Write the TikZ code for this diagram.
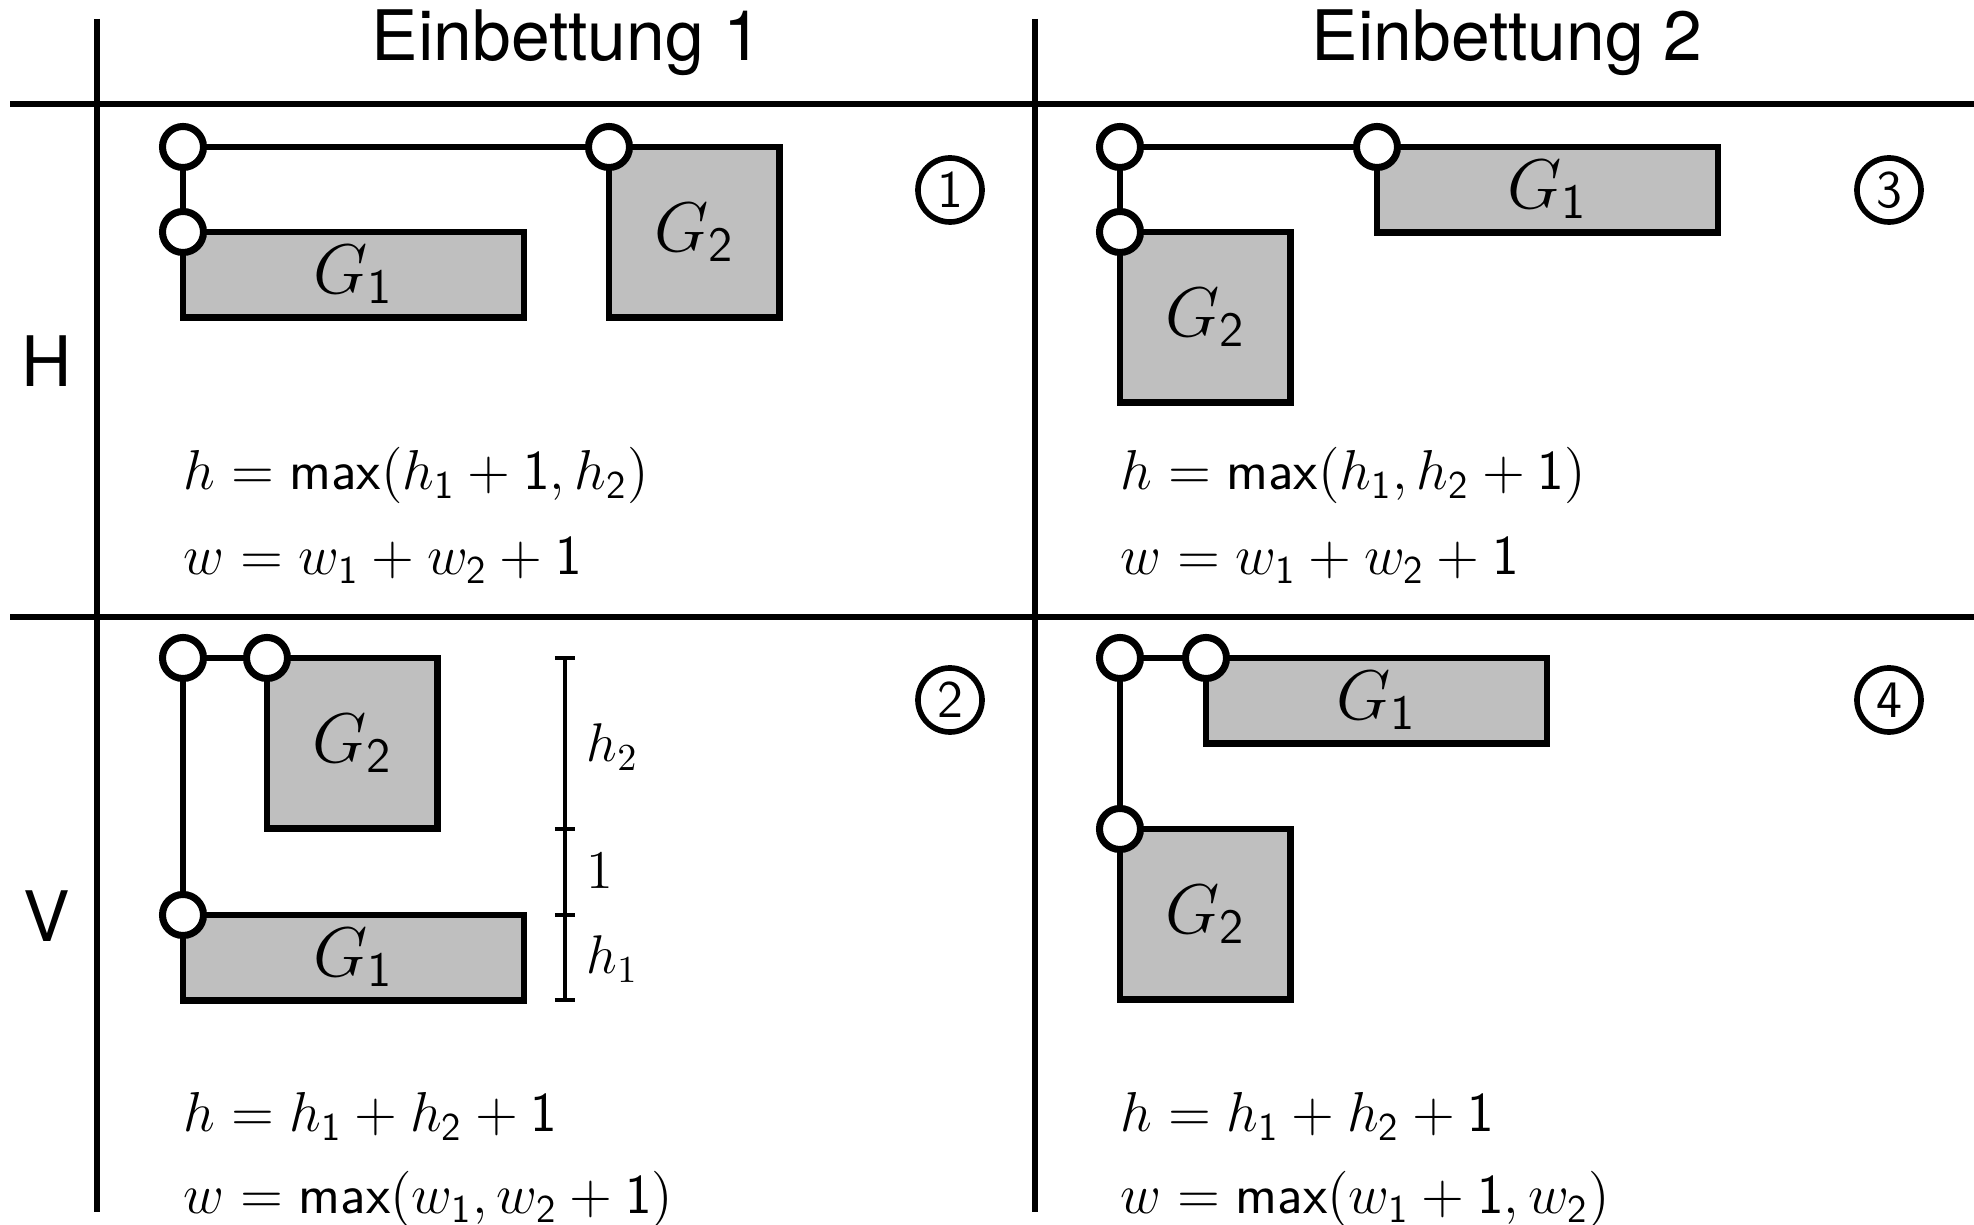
\IfFileExists{fix-cm.sty}{\RequirePackage{fix-cm}}{}
\documentclass[tikz,border=0pt]{standalone}
\usepackage{fontspec}
\newfontfamily\helv{TeX Gyre Heros}
\begin{document}
\begin{tikzpicture}[x=0.01cm,y=-0.01cm]
\tikzset{
  gridline/.style={line width=1.8pt},
  edge/.style={line width=1.6pt},
  gbox/.style={draw, line width=1.85pt, fill=black!25, inner sep=0pt, outer sep=0pt, anchor=north west,
    font=\fontsize{20}{24}\selectfont},
  wide/.style={minimum width=3.41cm, minimum height=0.853cm},
  square/.style={minimum width=1.706cm, minimum height=1.706cm},
  vtx/.style={circle, draw, line width=2pt, fill=white, minimum size=0.41cm, inner sep=0pt},
  num/.style={circle, draw, line width=1.6pt, minimum size=0.64cm, inner sep=0pt,
    font=\sffamily\fontsize{15}{18}\selectfont},
  formula/.style={anchor=base west, inner sep=0pt, font=\fontsize{16}{19}\selectfont},
  head/.style={anchor=base, inner sep=0pt, font=\helv\fontsize{19.8}{23}\selectfont},
  dim/.style={line width=0.9pt},
  dimlabel/.style={anchor=west, inner sep=0pt, font=\fontsize{15.5}{18}\selectfont},
}
\useasboundingbox (0,0) rectangle (1974,1225);

% grid
\coordinate (v1t) at (97,19);  \coordinate (v1b) at (97,1212);
\coordinate (v2t) at (1035,19); \coordinate (v2b) at (1035,1212);
\coordinate (h1l) at (10,104); \coordinate (h1r) at (1974,104);
\coordinate (h2l) at (10,617); \coordinate (h2r) at (1974,617);
\draw[gridline] (v1t) -- (v1b);
\draw[gridline] (v2t) -- (v2b);
\draw[gridline] (h1l) -- (h1r);
\draw[gridline] (h2l) -- (h2r);

% headers
\node[head] (e1) at (567,61) {Einbettung 1};
\node[head] (e2) at (1507,61) {Einbettung 2};
\node[head] (hl) at (47,387) {H};
\node[head] (vl) at (47,942) {V};

% panel 1
\node[gbox, wide] (p1g1) at (183,232) {$G_{\mathsf{1}}$};
\node[gbox, square] (p1g2) at (609,147) {$G_{\mathsf{2}}$};
\node[vtx] (p1a) at (183,147) {};
\node[vtx] (p1b) at (p1g1.north west) {};
\node[vtx] (p1c) at (p1g2.north west) {};
\draw[edge] (p1a) -- (p1c);
\draw[edge] (p1a) -- (p1b);
\node[num] (n1) at (950,190) {1};
\node[formula] (f1h) at (183,490) {$h = \mathsf{max}(h_{\mathsf{1}} + \mathsf{1}, h_{\mathsf{2}})$};
\node[formula] (f1w) at (183,575) {$w = w_{\mathsf{1}} + w_{\mathsf{2}} + \mathsf{1}$};

% panel 3
\node[gbox, wide] (p3g1) at (1377,147) {$G_{\mathsf{1}}$};
\node[gbox, square] (p3g2) at (1120,232) {$G_{\mathsf{2}}$};
\node[vtx] (p3a) at (1120,147) {};
\node[vtx] (p3b) at (p3g2.north west) {};
\node[vtx] (p3c) at (p3g1.north west) {};
\draw[edge] (p3a) -- (p3c);
\draw[edge] (p3a) -- (p3b);
\node[num] (n3) at (1889,190) {3};
\node[formula] (f3h) at (1120,490) {$h = \mathsf{max}(h_{\mathsf{1}}, h_{\mathsf{2}} + \mathsf{1})$};
\node[formula] (f3w) at (1120,575) {$w = w_{\mathsf{1}} + w_{\mathsf{2}} + \mathsf{1}$};

% panel 2
\node[gbox, square] (p2g2) at (267,658) {$G_{\mathsf{2}}$};
\node[gbox, wide] (p2g1) at (183,915) {$G_{\mathsf{1}}$};
\node[vtx] (p2a) at (183,658) {};
\node[vtx] (p2d) at (p2g2.north west) {};
\node[vtx] (p2b) at (p2g1.north west) {};
\draw[edge] (p2a) -- (p2d);
\draw[edge] (p2a) -- (p2b);
\node[num] (n2) at (950,700) {2};
\coordinate (d0) at (565,658);
\coordinate (d1) at (565,829);
\coordinate (d2) at (565,915);
\coordinate (d3) at (565,1000);
\draw[dim] (d0) -- (d3);
\foreach \c in {d0,d1,d2,d3} {
  \draw[dim] ([xshift=-0.1cm]\c) -- ([xshift=0.1cm]\c);
}
\node[dimlabel] (lh2) at (586,747) {$h_2$};
\node[dimlabel] (l1) at (586,871) {$1$};
\node[dimlabel] (lh1) at (586,959) {$h_1$};
\node[formula] (f2h) at (183,1132) {$h = h_{\mathsf{1}} + h_{\mathsf{2}} + \mathsf{1}$};
\node[formula] (f2w) at (183,1214) {$w = \mathsf{max}(w_{\mathsf{1}}, w_{\mathsf{2}} + \mathsf{1})$};

% panel 4
\node[gbox, wide] (p4g1) at (1206,658) {$G_{\mathsf{1}}$};
\node[gbox, square] (p4g2) at (1120,829) {$G_{\mathsf{2}}$};
\node[vtx] (p4a) at (1120,658) {};
\node[vtx] (p4d) at (p4g1.north west) {};
\node[vtx] (p4b) at (p4g2.north west) {};
\draw[edge] (p4a) -- (p4d);
\draw[edge] (p4a) -- (p4b);
\node[num] (n4) at (1889,700) {4};
\node[formula] (f4h) at (1120,1132) {$h = h_{\mathsf{1}} + h_{\mathsf{2}} + \mathsf{1}$};
\node[formula] (f4w) at (1120,1214) {$w = \mathsf{max}(w_{\mathsf{1}} + \mathsf{1}, w_{\mathsf{2}})$};
\end{tikzpicture}
\end{document}
